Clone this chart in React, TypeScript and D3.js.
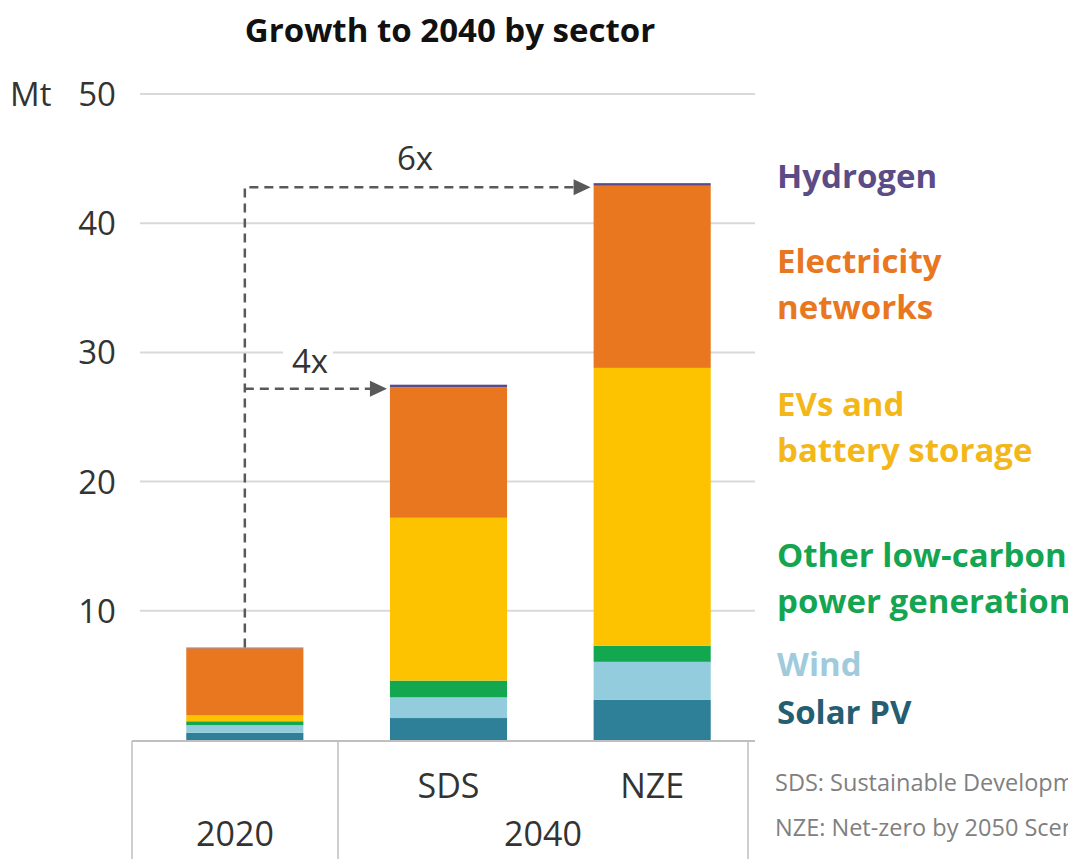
import React from "react";
import * as d3 from "d3";

// Mt
const categories = ["2020", "SDS", "NZE"];
const solarPV = [0.55, 1.7, 3.1];
const wind = [0.6, 1.6, 2.95];
const otherLowCarbon = [0.3, 1.3, 1.25];
const evsBattery = [0.45, 12.6, 21.5];
const electricityNetworks = [5.2, 10.1, 14.1];
const hydrogen = [0.05, 0.2, 0.2];
const yTicks = [10, 20, 30, 40, 50];

const seriesKeys = ["solar", "wind", "other", "evs", "elec", "h2"];
const barColors = ["#2e7f98", "#93cddd", "#13a84f", "#fdc300", "#e8771f", "#5a4a8c"];

const legendItems = [
  { lines: ["Hydrogen"], color: "#5b4b86", y: 188 },
  { lines: ["Electricity", "networks"], color: "#e8771f", y: 273 },
  { lines: ["EVs and", "battery storage"], color: "#f4b71a", y: 416 },
  { lines: ["Other low-carbon", "power generation"], color: "#13a552", y: 567 },
  { lines: ["Wind"], color: "#9fcbdc", y: 676 },
  { lines: ["Solar PV"], color: "#245e72", y: 724 },
];

const W = 1068;
const H = 859;
const FONT = "'Open Sans', 'Noto Sans', sans-serif";

const App = () => {
  const table = categories.map((c, i) => ({
    cat: c,
    solar: solarPV[i],
    wind: wind[i],
    other: otherLowCarbon[i],
    evs: evsBattery[i],
    elec: electricityNetworks[i],
    h2: hydrogen[i],
  }));
  const stacked = d3.stack<any>().keys(seriesKeys)(table);
  const totals = table.map((d) => seriesKeys.reduce((s, k) => s + d[k], 0));

  const y = d3.scaleLinear().domain([0, 50]).range([740, 94]);
  const x = d3
    .scaleBand()
    .domain(categories)
    .range([143, 754])
    .paddingInner(0.425)
    .paddingOuter(0.2125);

  const axisLeft = 132;
  const axisMid = 338;
  const axisRight = 748;
  const gridX0 = 140;
  const gridX1 = 755;

  const cx2020 = x("2020")! + x.bandwidth() / 2;
  const yStart = y(totals[0]);
  const y4 = y(totals[1]) + 4;
  const y6 = y(totals[2]) + 4;
  const tip4 = x("SDS")! - 3;
  const tip6 = x("NZE")! - 3;

  const arrow = (tx: number, ty: number) =>
    `M${tx},${ty} L${tx - 17},${ty - 8} L${tx - 17},${ty + 8} Z`;

  return (
    <div style={{ position: "absolute", left: 0, top: 0 }}>
      <svg width={W} height={H} style={{ display: "block", background: "#fff" }} fontFamily={FONT}>
        <text x={450} y={42} textAnchor="middle" fontSize={33} fontWeight={700} fill="#111">
          Growth to 2040 by sector
        </text>

        {/* grid */}
        {yTicks.map((t) => (
          <g key={t}>
            <line x1={gridX0} x2={gridX1} y1={y(t)} y2={y(t)} stroke="#d9d9d9" strokeWidth={2} />
            <text x={116} y={y(t) + 12} textAnchor="end" fontSize={33} fill="#333">
              {t}
            </text>
          </g>
        ))}
        <text x={10} y={y(50) + 12} fontSize={33} fill="#333">
          Mt
        </text>

        {/* bars */}
        {stacked.map((layer, li) => (
          <g key={layer.key} fill={barColors[li]}>
            {layer.map((d, i) => (
              <rect
                key={i}
                x={x(categories[i])}
                width={x.bandwidth()}
                y={y(d[1])}
                height={Math.max(0, y(d[0]) - y(d[1]))}
              />
            ))}
          </g>
        ))}

        {/* axis */}
        <line x1={axisLeft} x2={gridX1} y1={741} y2={741} stroke="#bfbfbf" strokeWidth={2} />
        {[axisLeft, axisMid, axisRight].map((xx) => (
          <line key={xx} x1={xx} x2={xx} y1={741} y2={H} stroke="#bfbfbf" strokeWidth={1.5} />
        ))}
        {categories.slice(1).map((c) => (
          <text key={c} x={x(c)! + x.bandwidth() / 2} y={798} textAnchor="middle" fontSize={34} fill="#333">
            {c}
          </text>
        ))}
        <text x={(axisLeft + axisMid) / 2} y={846} textAnchor="middle" fontSize={34} fill="#333">
          2020
        </text>
        <text x={(axisMid + axisRight) / 2} y={846} textAnchor="middle" fontSize={34} fill="#333">
          2040
        </text>

        {/* growth annotations */}
        <path
          d={`M${cx2020},${yStart} V${y6} H${tip6 - 15}`}
          fill="none"
          stroke="#595959"
          strokeWidth={2.5}
          strokeDasharray="9 6"
        />
        <path
          d={`M${cx2020},${y4} H${tip4 - 15}`}
          fill="none"
          stroke="#595959"
          strokeWidth={2.5}
          strokeDasharray="9 6"
        />
        <path d={arrow(tip6, y6)} fill="#595959" />
        <path d={arrow(tip4, y4)} fill="#595959" />
        <text x={415} y={170} textAnchor="middle" fontSize={33} fill="#333">
          6x
        </text>
        <rect x={283} y={y(30) - 3} width={50} height={6} fill="#fff" />
        <text x={310} y={373} textAnchor="middle" fontSize={33} fill="#333">
          4x
        </text>

        {/* legend */}
        {legendItems.map((it) => (
          <text key={it.lines[0]} x={777} y={it.y} fontSize={33} fontWeight={700} fill={it.color}>
            {it.lines.map((l, i) => (
              <tspan key={l} x={777} dy={i === 0 ? 0 : 46}>
                {l}
              </tspan>
            ))}
          </text>
        ))}

        {/* footnotes */}
        <text x={775} y={791} fontSize={23.5} fill="#808080">
          SDS: Sustainable Development Scenario
        </text>
        <text x={775} y={836} fontSize={23.5} fill="#808080">
          NZE: Net-zero by 2050 Scenario
        </text>
      </svg>
    </div>
  );
};

export default App;
